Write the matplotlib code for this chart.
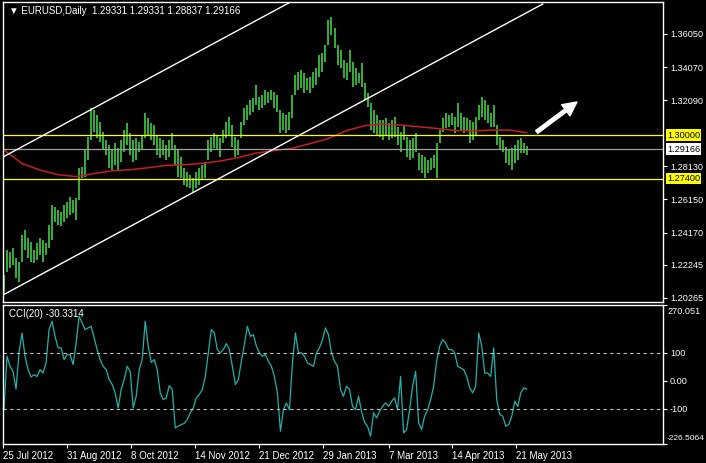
import numpy as np
import matplotlib
matplotlib.use('Agg')
import matplotlib.pyplot as plt
import matplotlib.transforms as mtrans

plt.rcParams['font.family'] = ['Liberation Sans', 'DejaVu Sans']
plt.rcParams['font.size'] = 7

# EURUSD daily bars, 25 Jul 2012 .. end of May 2013
highs = [1.2164, 1.2313, 1.2301, 1.2325, 1.2265, 1.2241, 1.2403, 1.2433, 1.2385, 1.2361,
         1.2313, 1.2355, 1.2385, 1.2373, 1.2355, 1.2463, 1.2582, 1.2570, 1.2552, 1.2540,
         1.2582, 1.2600, 1.2630, 1.2612, 1.2624, 1.2803, 1.2809, 1.2911, 1.2989, 1.3162,
         1.3150, 1.3120, 1.3078, 1.3019, 1.2971, 1.2941, 1.2911, 1.2953, 1.2923, 1.2971,
         1.3031, 1.3072, 1.3013, 1.2971, 1.2983, 1.2959, 1.3001, 1.3132, 1.3102, 1.3072,
         1.3060, 1.3001, 1.2983, 1.2971, 1.2941, 1.2971, 1.3013, 1.2941, 1.2911, 1.2869,
         1.2803, 1.2779, 1.2761, 1.2744, 1.2779, 1.2803, 1.2821, 1.2839, 1.2971, 1.2989,
         1.3013, 1.3001, 1.2983, 1.3031, 1.3078, 1.3108, 1.3060, 1.2989, 1.2971, 1.3078,
         1.3162, 1.3180, 1.3210, 1.3222, 1.3300, 1.3228, 1.3240, 1.3270, 1.3258, 1.3270,
         1.3258, 1.3240, 1.3150, 1.3132, 1.3120, 1.3138, 1.3240, 1.3359, 1.3377, 1.3389,
         1.3371, 1.3342, 1.3348, 1.3377, 1.3401, 1.3479, 1.3491, 1.3539, 1.3688, 1.3706,
         1.3641, 1.3539, 1.3509, 1.3449, 1.3431, 1.3509, 1.3437, 1.3401, 1.3371, 1.3431,
         1.3312, 1.3252, 1.3192, 1.3150, 1.3120, 1.3090, 1.3090, 1.3102, 1.3072, 1.3090,
         1.3108, 1.3049, 1.3019, 1.3060, 1.2989, 1.2971, 1.2983, 1.3013, 1.2893, 1.2881,
         1.2869, 1.2851, 1.2863, 1.2881, 1.2953, 1.3031, 1.3102, 1.3132, 1.3120, 1.3132,
         1.3108, 1.3192, 1.3132, 1.3108, 1.3102, 1.3090, 1.3078, 1.3108, 1.3180, 1.3228,
         1.3210, 1.3180, 1.3132, 1.3180, 1.3060, 1.2989, 1.2971, 1.2929, 1.2911, 1.2923,
         1.2941, 1.2971, 1.2983, 1.2953, 1.29331]
lows = [1.2044, 1.2181, 1.2205, 1.2223, 1.2146, 1.2122, 1.2241, 1.2313, 1.2265, 1.2241,
        1.2235, 1.2253, 1.2283, 1.2241, 1.2283, 1.2325, 1.2373, 1.2480, 1.2463, 1.2457,
        1.2480, 1.2504, 1.2522, 1.2534, 1.2492, 1.2612, 1.2744, 1.2750, 1.2851, 1.2971,
        1.3019, 1.2983, 1.2959, 1.2911, 1.2881, 1.2803, 1.2791, 1.2821, 1.2791, 1.2839,
        1.2899, 1.2941, 1.2881, 1.2839, 1.2851, 1.2899, 1.2911, 1.2983, 1.2995, 1.2971,
        1.2941, 1.2881, 1.2863, 1.2881, 1.2851, 1.2869, 1.2911, 1.2821, 1.2750, 1.2744,
        1.2702, 1.2690, 1.2684, 1.2660, 1.2684, 1.2702, 1.2732, 1.2744, 1.2851, 1.2899,
        1.2923, 1.2911, 1.2869, 1.2953, 1.2983, 1.3001, 1.2929, 1.2869, 1.2881, 1.2983,
        1.3060, 1.3090, 1.3120, 1.3138, 1.3180, 1.3150, 1.3162, 1.3180, 1.3192, 1.3210,
        1.3162, 1.3138, 1.3013, 1.3031, 1.3013, 1.3031, 1.3102, 1.3240, 1.3270, 1.3282,
        1.3252, 1.3270, 1.3252, 1.3282, 1.3300, 1.3348, 1.3377, 1.3437, 1.3539, 1.3599,
        1.3521, 1.3419, 1.3401, 1.3342, 1.3330, 1.3377, 1.3288, 1.3300, 1.3312, 1.3288,
        1.3210, 1.3168, 1.3031, 1.3013, 1.3001, 1.2989, 1.2971, 1.3001, 1.2971, 1.2983,
        1.2989, 1.2941, 1.2899, 1.2971, 1.2869, 1.2851, 1.2863, 1.2899, 1.2791, 1.2773,
        1.2744, 1.2773, 1.2791, 1.2803, 1.2744, 1.2953, 1.3019, 1.3043, 1.3049, 1.3060,
        1.3013, 1.3049, 1.3031, 1.3013, 1.3031, 1.2953, 1.2971, 1.3001, 1.3090, 1.3108,
        1.3090, 1.3072, 1.3049, 1.3049, 1.2941, 1.2911, 1.2899, 1.2833, 1.2821, 1.2791,
        1.2833, 1.2851, 1.2893, 1.2893, 1.28837]

# moving average, sampled every 6 bars
ma_step = 6
ma_vals = [1.2911, 1.2830, 1.2791, 1.2763, 1.2752, 1.2770, 1.2787, 1.2793, 1.2805, 1.2819,
           1.2823, 1.2831, 1.2845, 1.2866, 1.2893, 1.2908, 1.2921, 1.2950, 1.2980, 1.3027,
           1.3056, 1.3065, 1.3060, 1.3050, 1.3040, 1.3028, 1.3025, 1.3030, 1.3030, 1.3015]

cci = [-100, 87, 51, 33, -30, 100, 170, 87, 39, 13,
       21, 15, 39, 27, 63, 182, 212, 158, 117, 117,
       75, 93, 93, 57, 134, 230, 206, 182, 188, 194,
       152, 111, 75, 51, 39, 4, -14, -44, -98, -32,
       4, 51, 33, -98, -56, 39, 75, 212, 123, 65,
       75, 39, -44, -68, -62, -18, -32, -169, -163, -157,
       -153, -139, -115, -98, -62, -50, -32, 15, 99, 182,
       170, 111, 99, 111, 132, 111, 51, -14, 4, 69,
       129, 194, 158, 164, 123, 99, 87, 93, 69, 51,
       15, -44, -181, -104, -80, -104, 63, 170, 99, 99,
       87, 63, 57, 51, 99, 117, 146, 188, 164, 99,
       69, 51, -32, -56, -20, -32, -92, -104, -56, -110,
       -149, -163, -199, -115, -133, -110, -92, -80, -92, -74,
       -62, -104, 15, -187, -175, -104, -20, 33, -151, -175,
       -127, -104, -68, -20, 69, 123, 146, 134, 111, 111,
       99, 51, 45, 39, 15, -26, -44, -20, 170, 123,
       27, 27, 15, 117, -68, -121, -127, -163, -157, -127,
       -74, -92, -44, -26, -30.3314]

date_labels = ['25 Jul 2012', '31 Aug 2012', '8 Oct 2012', '14 Nov 2012', '21 Dec 2012',
               '29 Jan 2013', '7 Mar 2013', '14 Apr 2013', '21 May 2013']
date_pos = [-0.33, 21, 42.33, 63.67, 85, 106.33, 128, 149, 170.33]

price_ticks = [1.36050, 1.34070, 1.32090, 1.28130, 1.26150, 1.24170, 1.22245, 1.20265]
level_lines = [1.30000, 1.27400]
bid = 1.29166

# channel (two parallel trend lines), bar index -> price
chan_x = [-0.33, 179.3]
chan_low = [1.2044, 1.3784]
chan_high = [1.2869, 1.4609]

arrow_from = (177.3, 1.3019)
arrow_to = (190.7, 1.3198)

cci_top, cci_bot = 270.051, -226.5064

W, H = 706, 463
GREEN = '#44e044'
FS = 6.6
fig = plt.figure(figsize=(W / 100, H / 100), dpi=100, facecolor='black')
ax = fig.add_axes([3 / W, (H - 302) / H, 660 / W, 300 / H], facecolor='black')
ax2 = fig.add_axes([3 / W, (H - 444) / H, 660 / W, 139 / H], facecolor='black')

idx = np.arange(len(highs))
ax.vlines(idx, lows, highs, color=GREEN, lw=1.1)
ax.plot(np.arange(len(ma_vals)) * ma_step, ma_vals, color='#c81e1e', lw=1.1)
for lv in level_lines:
    ax.axhline(lv, color='#ffff00', lw=0.9)
ax.axhline(bid, color='#a0a0a0', lw=0.9)
ax.plot(chan_x, chan_low, color='white', lw=1)
ax.plot(chan_x, chan_high, color='white', lw=1)
ax.annotate('', xy=arrow_to, xytext=arrow_from,
            arrowprops=dict(facecolor='white', edgecolor='white', width=2.5,
                            headwidth=10, headlength=10))

ax.set_xlim(-1 / 3, 659 / 3 - 1 / 3)
ax.set_ylim(1.2002, 1.3796)
ax.yaxis.tick_right()
ax.set_yticks(price_ticks)
ax.set_yticklabels(['%.5f' % p for p in price_ticks])
ax.set_xticks([])
ax.tick_params(axis='y', colors='white', length=3, width=0.8, pad=2, labelsize=FS)

tr = mtrans.blended_transform_factory(ax.transAxes, ax.transData)
for val, bg in [(1.30000, '#ffff00'), (bid, 'white'), (1.27400, '#ffff00')]:
    ax.text(1.006, val, '%.5f' % val, transform=tr, ha='left', va='center',
            color='black', fontsize=FS,
            bbox=dict(boxstyle='square,pad=0.15', fc=bg, ec='none'))

ax.text(6 / 660, 1 - 9 / 300, '\u25bc EURUSD,Daily  1.29331 1.29331 1.28837 1.29166',
        transform=ax.transAxes, color='white', fontsize=7, va='center', ha='left')

# CCI panel
ax2.plot(idx, cci, color='#20b2aa', lw=0.9)
for lv in (100, -100):
    ax2.axhline(lv, color='#c0c0c0', lw=0.8, ls=(0, (3, 3)))
ax2.set_xlim(ax.get_xlim())
ax2.set_ylim(cci_bot, cci_top)
ax2.yaxis.tick_right()
ax2.set_yticks([cci_top, 100, 0, -100, cci_bot])
ax2.set_yticklabels(['', '100', '0.00', '-100', ''])
ax2.tick_params(axis='y', colors='white', length=3, width=0.8, pad=2, labelsize=FS)
ax2.text(1.007, 1 - 7 / 139, '270.051', transform=ax2.transAxes, color='white',
         fontsize=FS, ha='left', va='center')
ax2.text(1.006, 6 / 139, '-226.5064', transform=ax2.transAxes, color='white',
         fontsize=6.0, ha='left', va='center')
ax2.text(6 / 660, 1 - 9 / 139, 'CCI(20) -30.3314', transform=ax2.transAxes,
         color='white', fontsize=7, ha='left', va='center')

ax2.set_xticks(date_pos)
ax2.set_xticklabels(date_labels, ha='left')
ax2.tick_params(axis='x', colors='white', length=3, width=0.8, pad=2, labelsize=7)

for a in (ax, ax2):
    for s in a.spines.values():
        s.set_color('white')
        s.set_linewidth(1)

fig.savefig('out.png', dpi=100, facecolor='black')
